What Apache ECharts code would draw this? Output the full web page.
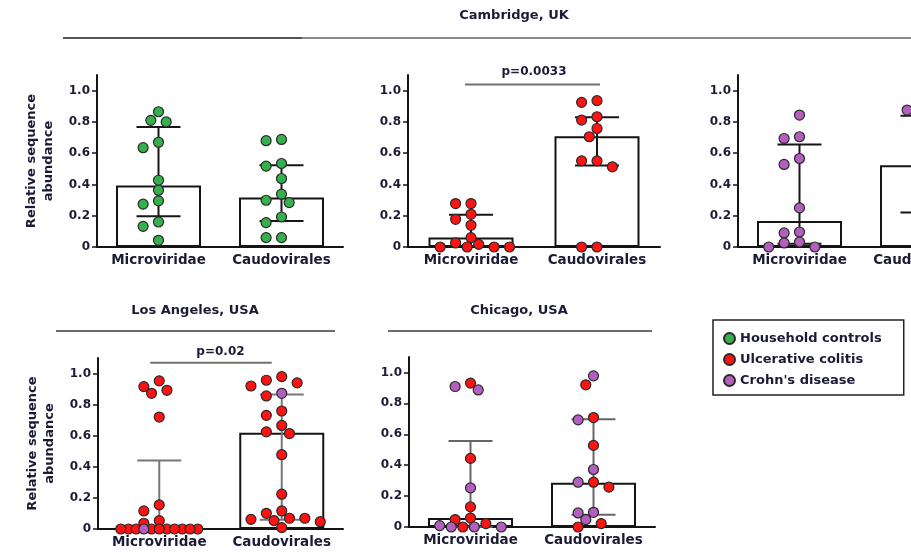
<!DOCTYPE html>
<html><head><meta charset="utf-8">
<script src="https://cdn.jsdelivr.net/npm/echarts@6/dist/echarts.min.js"></script>
<style>html,body{margin:0;padding:0;background:#fff}#c{width:911px;height:560px}</style>
</head><body><div id="c"></div>
<script>
// ---------- data ----------
const categories = ['Microviridae', 'Caudovirales'];
const groupNames = ['Household controls', 'Ulcerative colitis', "Crohn's disease"];
const yTicks = [0, 0.2, 0.4, 0.6, 0.8, 1.0];
const panelTitles = ['Cambridge, UK', 'Los Angeles, USA', 'Chicago, USA'];
const pLabels = ['p=0.0033', 'p=0.02'];
const yName = 'Relative sequence\nabundance';

// Cambridge, UK — household controls
const camHC_micro = [0.865, 0.81, 0.80, 0.67, 0.635, 0.427, 0.363, 0.295, 0.274, 0.16, 0.132, 0.043];
const camHC_caudo = [0.688, 0.68, 0.534, 0.517, 0.438, 0.338, 0.299, 0.284, 0.192, 0.156, 0.06, 0.06];
const camHC_median = [0.393, 0.316];
const camHC_q1 = [0.197, 0.167];
const camHC_q3 = [0.767, 0.523];

// Cambridge, UK — ulcerative colitis
const camUC_micro = [0.278, 0.278, 0.209, 0.177, 0.139, 0.06, 0.026, 0.017, 0, 0, 0, 0];
const camUC_caudo = [0.936, 0.925, 0.833, 0.812, 0.758, 0.705, 0.551, 0.551, 0.513, 0, 0];
const camUC_median = [0.06, 0.709];
const camUC_q1 = [0.0, 0.521];
const camUC_q3 = [0.207, 0.829];

// Cambridge, UK — Crohn's disease
const camCD_micro = [0.844, 0.705, 0.694, 0.566, 0.528, 0.25, 0.096, 0.09, 0.032, 0.026, 0, 0];
const camCD_caudo = [0.9, 0.876, 0.8, 0.7, 0.6, 0.52, 0.45, 0.3, 0.22, 0.12];
const camCD_median = [0.167, 0.523];
const camCD_q1 = [0.02, 0.22];
const camCD_q3 = [0.656, 0.84];

// Los Angeles, USA
const laUC_micro = [0.953, 0.916, 0.892, 0.873, 0.72, 0.155, 0.116, 0.054, 0.037, 0, 0, 0, 0, 0, 0, 0, 0, 0, 0];
const laCD_micro = [0];
const laUC_caudo = [0.98, 0.957, 0.94, 0.92, 0.856, 0.759, 0.731, 0.666, 0.625, 0.614, 0.478, 0.224, 0.116, 0.101, 0.069, 0.069, 0.062, 0.054, 0.047, 0.009];
const laCD_caudo = [0.873];
const la_median = [0.0, 0.619];
const la_q1 = [0.0, 0.06];
const la_q3 = [0.44, 0.866];

// Chicago, USA
const chiUC_micro = [0.931, 0.444, 0.13, 0.058, 0.048, 0.022, 0];
const chiCD_micro = [0.909, 0.887, 0.253, 0.009, 0, 0, 0];
const chiUC_caudo = [0.92, 0.708, 0.528, 0.29, 0.258, 0.022, 0];
const chiCD_caudo = [0.978, 0.693, 0.372, 0.29, 0.095, 0.091, 0.048];
const chi_median = [0.058, 0.286];
const chi_q1 = [0.0, 0.08];
const chi_q3 = [0.556, 0.697];

// ---------- styling / layout ----------
const FONT = 'DejaVu Sans';
const TXT = '#1b1b36';
const groupColors = ['#35b04c', '#ff1212', '#b45fbf'];
const YMAX = 1.1;

const panels = [
  { grid: { left: 97, top: 75, width: 246, height: 172 }, groups: [[0, camHC_micro, camHC_caudo]],
    med: camHC_median, q1: camHC_q1, q3: camHC_q3, err: '#161616', yName: true },
  { grid: { left: 408, top: 75, width: 252, height: 172 }, groups: [[1, camUC_micro, camUC_caudo]],
    med: camUC_median, q1: camUC_q1, q3: camUC_q3, err: '#161616', yName: false },
  { grid: { left: 738, top: 75, width: 246, height: 172 }, groups: [[2, camCD_micro, camCD_caudo]],
    med: camCD_median, q1: camCD_q1, q3: camCD_q3, err: '#161616', yName: false },
  { grid: { left: 98, top: 358, width: 245, height: 171 }, groups: [[1, laUC_micro, laUC_caudo], [2, laCD_micro, laCD_caudo]],
    med: la_median, q1: la_q1, q3: la_q3, err: '#777', yName: true },
  { grid: { left: 409, top: 357, width: 246, height: 170 }, groups: [[1, chiUC_micro, chiUC_caudo], [2, chiCD_micro, chiCD_caudo]],
    med: chi_median, q1: chi_q1, q3: chi_q3, err: '#666', yName: false }
];

// beeswarm layout (pixel-space collision avoidance)
function swarm(points, grid) {
  const pxPerX = grid.width / 2;
  const pxPerY = grid.height / YMAX;
  const step = 7.7, minD = 10, maxHalf = 40;
  const order = points.map((p, i) => i).sort((a, b) => points[b].v - points[a].v);
  const placed = [];
  const cands = [0];
  for (let k = 1; k * step <= maxHalf; k++) { cands.push(-k * step, k * step); }
  const fine = [0];
  for (let k = 1; k * step / 2 <= maxHalf; k++) { fine.push(-k * step / 2, k * step / 2); }
  order.forEach(i => {
    const y = points[i].v * pxPerY;
    const minDist = dx => {
      let m = Infinity;
      placed.forEach(p => { const d = Math.hypot(p.dx - dx, p.y - y); if (d < m) m = d; });
      return m;
    };
    let chosen = null;
    for (const c of cands) { if (minDist(c) >= minD) { chosen = c; break; } }
    if (chosen === null) {
      let best = -1;
      for (const c of fine) { const m = minDist(c); if (m > best + 0.01) { best = m; chosen = c; } }
    }
    placed.push({ dx: chosen, y });
    points[i].off = chosen / pxPerX;
  });
  return points;
}

const grids = [], xAxes = [], yAxes = [], series = [];
panels.forEach((P, pi) => {
  grids.push(Object.assign({ containLabel: false, outerBoundsMode: 'none' }, P.grid));
  xAxes.push({
    type: 'category', gridIndex: pi, data: categories,
    axisLine: { onZero: false, lineStyle: { color: '#141414', width: 2 } },
    axisTick: { show: false },
    axisLabel: { interval: 0, hideOverlap: false, fontFamily: FONT, fontWeight: 'bold', fontSize: 13.5, color: TXT, margin: 6 }
  });
  xAxes.push({ type: 'value', gridIndex: pi, min: -0.5, max: 1.5, show: false, axisLine: { onZero: false } });
  yAxes.push({
    type: 'value', gridIndex: pi, min: 0, max: YMAX, interval: 0.2,
    name: P.yName ? yName : '', nameLocation: 'middle', nameRotate: 90, nameGap: 40,
    nameTextStyle: { fontFamily: FONT, fontWeight: 'bold', fontSize: 13, color: TXT, lineHeight: 17 },
    axisLine: { show: true, onZero: false, lineStyle: { color: '#141414', width: 2 } },
    axisTick: { show: true, length: 5, customValues: yTicks, lineStyle: { color: '#141414', width: 1.5 } },
    splitLine: { show: false },
    axisLabel: { customValues: yTicks, fontFamily: FONT, fontWeight: 'bold', fontSize: 12, color: TXT, margin: 7,
      formatter: v => (v === 0 ? '0' : v.toFixed(1)) }
  });
  series.push({
    type: 'bar', xAxisIndex: 2 * pi, yAxisIndex: pi, data: P.med, barWidth: 85, z: 2,
    itemStyle: { color: '#fff', borderColor: '#141414', borderWidth: 2 }, silent: true
  });
  const errColor = P.err;
  series.push({
    type: 'custom', xAxisIndex: 2 * pi + 1, yAxisIndex: pi, z: 3, silent: true,
    data: [[0, P.q1[0], P.q3[0]], [1, P.q1[1], P.q3[1]]],
    renderItem: (params, api) => {
      const x = api.value(0);
      const a = api.coord([x, api.value(1)]), b = api.coord([x, api.value(2)]);
      const hw = 22, st = { stroke: errColor, lineWidth: 2 };
      return { type: 'group', children: [
        { type: 'line', shape: { x1: a[0], y1: a[1], x2: b[0], y2: b[1] }, style: st },
        { type: 'line', shape: { x1: b[0] - hw, y1: b[1], x2: b[0] + hw, y2: b[1] }, style: st },
        { type: 'line', shape: { x1: a[0] - hw, y1: a[1], x2: a[0] + hw, y2: a[1] }, style: st }
      ] };
    }
  });
  const perGroup = P.groups.map(g => []);
  [1, 2].forEach((col, ci) => {
    const pts = [];
    P.groups.forEach((g, gi) => g[col].forEach(v => pts.push({ v, gi })));
    swarm(pts, P.grid);
    pts.forEach(p => perGroup[p.gi].push([ci + p.off, p.v]));
  });
  P.groups.forEach((g, gi) => {
    series.push({
      type: 'scatter', name: groupNames[g[0]], xAxisIndex: 2 * pi + 1, yAxisIndex: pi, z: 4, clip: false,
      symbol: 'circle', symbolSize: 10, silent: true,
      itemStyle: { color: groupColors[g[0]], borderColor: '#2a2a2a', borderWidth: 1.2, opacity: 1 },
      data: perGroup[gi]
    });
  });
});

const chart = echarts.init(document.getElementById('c'), null, { renderer: 'canvas' });
chart.setOption({
  animation: false,
  backgroundColor: '#fff',
  grid: grids, xAxis: xAxes, yAxis: yAxes, series,
  legend: {
    data: groupNames, orient: 'vertical', left: 713, top: 320, icon: 'circle',
    itemWidth: 11, itemHeight: 11, itemGap: 8, selectedMode: false,
    padding: [12, 22, 8, 10], borderColor: '#222', borderWidth: 1.5,
    textStyle: { fontFamily: FONT, fontWeight: 'bold', fontSize: 13, color: TXT }
  }
});

function px(pi, v) { return chart.convertToPixel({ xAxisIndex: 2 * pi + 1, yAxisIndex: pi }, v); }
const tStyle = { fontFamily: FONT, fontWeight: 'bold', fontSize: 13, fill: TXT, align: 'center', verticalAlign: 'middle' };
const pStyle = { fontFamily: FONT, fontWeight: 'bold', fontSize: 12, fill: TXT, align: 'center', verticalAlign: 'middle' };
const a0 = px(1, [0, 1.04]), a1 = px(1, [1, 1.04]);
const b0 = px(3, [0, 1.07]), b1 = px(3, [1, 1.07]);
chart.setOption({
  graphic: [
    { type: 'text', x: 514, y: 16, style: Object.assign({ text: panelTitles[0] }, tStyle) },
    { type: 'line', shape: { x1: 63, y1: 38, x2: 302, y2: 38 }, style: { stroke: '#555', lineWidth: 2 } },
    { type: 'line', shape: { x1: 302, y1: 38, x2: 911, y2: 38 }, style: { stroke: '#8a8a8a', lineWidth: 2 } },
    { type: 'text', x: 195, y: 311, style: Object.assign({ text: panelTitles[1] }, tStyle) },
    { type: 'line', shape: { x1: 56, y1: 331, x2: 335, y2: 331 }, style: { stroke: '#3a3a3a', lineWidth: 1.5 } },
    { type: 'text', x: 519, y: 311, style: Object.assign({ text: panelTitles[2] }, tStyle) },
    { type: 'line', shape: { x1: 388, y1: 331, x2: 652, y2: 331 }, style: { stroke: '#3a3a3a', lineWidth: 1.5 } },
    { type: 'line', shape: { x1: a0[0] - 6, y1: a0[1], x2: a1[0] + 3, y2: a1[1] }, style: { stroke: '#707070', lineWidth: 2 } },
    { type: 'text', x: (a0[0] + a1[0]) / 2, y: a0[1] - 13, style: Object.assign({ text: pLabels[0] }, pStyle) },
    { type: 'line', shape: { x1: b0[0] - 9, y1: b0[1], x2: b1[0] - 10, y2: b1[1] }, style: { stroke: '#707070', lineWidth: 2 } },
    { type: 'text', x: (b0[0] + b1[0]) / 2, y: b0[1] - 11, style: Object.assign({ text: pLabels[1] }, pStyle) }
  ]
});
</script>
</body></html>
